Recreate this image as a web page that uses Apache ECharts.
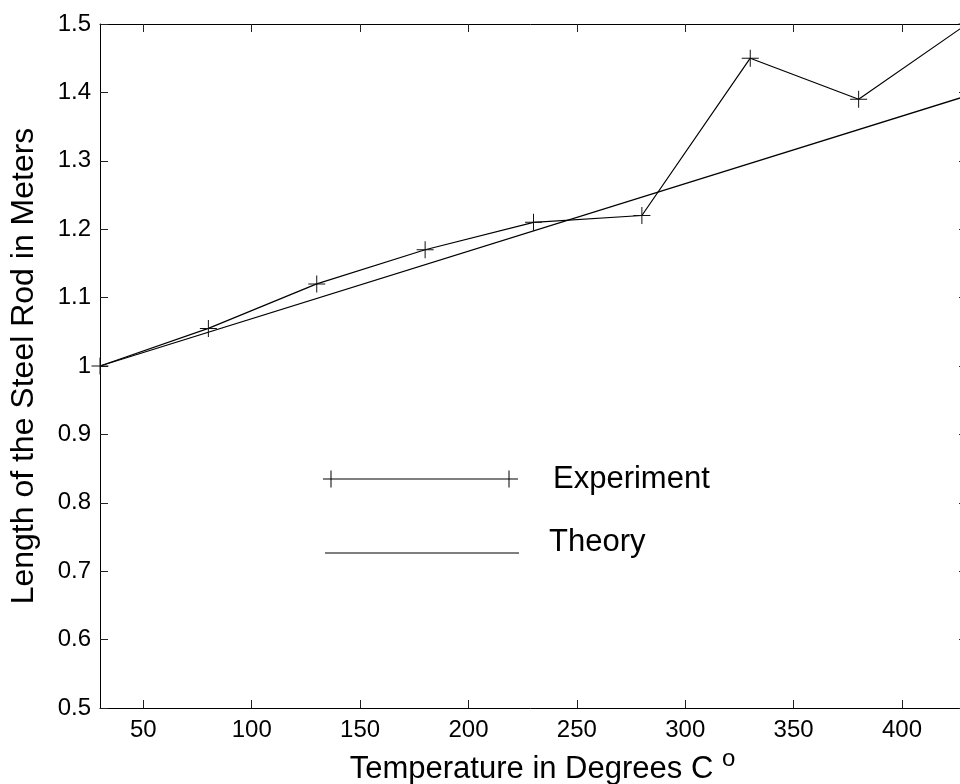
<!DOCTYPE html>
<html>
<head>
<meta charset="utf-8">
<title>Length of the Steel Rod</title>
<script src="https://cdn.jsdelivr.net/npm/echarts@6/dist/echarts.min.js"></script>
<style>
    html, body { margin: 0; padding: 0; background: #fff; }
    #main { width: 960px; height: 784px; }
</style>
</head>
<body>
<div id="main"></div>
<script>
// measured points (temperature in C, length in m)
var expTemp = [30, 80, 130, 180, 230, 280, 330, 380, 430];
var expLen = [1.0, 1.055, 1.12, 1.17, 1.21, 1.22, 1.45, 1.39, 1.5];
// theory line end points
var theoryTemp = [30, 430];
var theoryLen = [1.0, 1.395];
// tick labels
var xTicks = [50, 100, 150, 200, 250, 300, 350, 400];

var FONT = 'Liberation Sans';
var chart = echarts.init(document.getElementById('main'));

function pairs(xs, ys) {
    var out = [];
    for (var i = 0; i < xs.length; i++) {
        out.push([xs[i], ys[i]]);
    }
    return out;
}

// plus marker, 1px strokes
var crossPath = 'path://M0,8H17V9H0Z M8,0H9V17H8Z';
// legend icons (corner points keep the box size)
var expIcon = 'path://M0,0L0.01,0Z M195,64L194.99,64Z M0,31.5H195V32.5H0Z M7.5,23.5H8.5V40.5H7.5Z M185.5,23.5H186.5V40.5H185.5Z';
// theory line sits a bit below its label
var theoryIcon = 'path://M0,0L0.01,0Z M194,64L193.99,64Z M0,42.5H194V43.5H0Z';

var tickStyle = {color: '#222', width: 1};
var lineAxis = {lineStyle: {color: '#000', width: 1}, onZero: false};

var option = {
    animation: false,
    backgroundColor: '#fff',
    grid: {left: 100, top: 24, width: 867, height: 684, outerBoundsMode: 'none', containLabel: false},
    legend: [
        {
            left: 323, top: 447, padding: 0,
            itemWidth: 195, itemHeight: 64,
            data: [{name: 'Experiment', icon: expIcon, itemStyle: {color: '#000', borderWidth: 0}}],
            textStyle: {fontFamily: FONT, fontSize: 31, color: '#000', padding: [0, 0, 0, 30]}
        },
        {
            left: 325, top: 510, padding: 0,
            itemWidth: 194, itemHeight: 64,
            data: [{name: 'Theory', icon: theoryIcon, itemStyle: {color: '#000', borderWidth: 0}}],
            textStyle: {fontFamily: FONT, fontSize: 31, color: '#000', padding: [0, 0, 0, 25]}
        }
    ],
    xAxis: [
        {
            type: 'value', position: 'bottom', min: 30, max: 430,
            axisLine: lineAxis,
            axisTick: {inside: true, length: 8, customValues: xTicks, lineStyle: tickStyle},
            axisLabel: {customValues: xTicks, fontFamily: FONT, fontSize: 24, color: '#000', margin: 10},
            splitLine: {show: false},
            name: '{a|Temperature in Degrees C }{sup|o}',
            nameLocation: 'middle',
            nameGap: 36,
            nameTextStyle: {
                padding: [0, 0, 0, 18],
                rich: {
                    a: {fontFamily: FONT, fontSize: 31, color: '#000'},
                    sup: {fontFamily: FONT, fontSize: 24, color: '#000', padding: [0, 0, 22, 0]}
                }
            }
        },
        {
            type: 'value', position: 'top', min: 30, max: 430,
            axisLine: lineAxis,
            axisTick: {inside: true, length: 8, customValues: xTicks, lineStyle: tickStyle},
            axisLabel: {show: false},
            splitLine: {show: false}
        }
    ],
    yAxis: [
        {
            type: 'value', position: 'left', min: 0.5, max: 1.5, interval: 0.1,
            axisLine: lineAxis,
            axisTick: {inside: true, length: 8, lineStyle: tickStyle},
            axisLabel: {fontFamily: FONT, fontSize: 24, color: '#000', margin: 9},
            splitLine: {show: false},
            name: 'Length of the Steel Rod in Meters',
            nameLocation: 'middle',
            nameGap: 60,
            nameTextStyle: {fontFamily: FONT, fontSize: 32, color: '#000'}
        },
        {
            type: 'value', position: 'right', min: 0.5, max: 1.5, interval: 0.1,
            axisLine: lineAxis,
            axisTick: {inside: true, length: 8, lineStyle: tickStyle},
            axisLabel: {show: false},
            splitLine: {show: false}
        }
    ],
    series: [
        {
            name: 'Experiment',
            type: 'line',
            data: pairs(expTemp, expLen),
            symbol: crossPath,
            symbolSize: 17,
            showAllSymbol: true,
            itemStyle: {color: '#111'},
            lineStyle: {color: '#000', width: 1.2},
            emphasis: {disabled: true},
            z: 3
        },
        {
            name: 'Theory',
            type: 'line',
            data: pairs(theoryTemp, theoryLen),
            showSymbol: false,
            symbol: 'none',
            itemStyle: {color: '#000'},
            lineStyle: {color: '#000', width: 1.2},
            emphasis: {disabled: true},
            z: 2
        }
    ]
};
chart.setOption(option);
</script>
</body>
</html>
